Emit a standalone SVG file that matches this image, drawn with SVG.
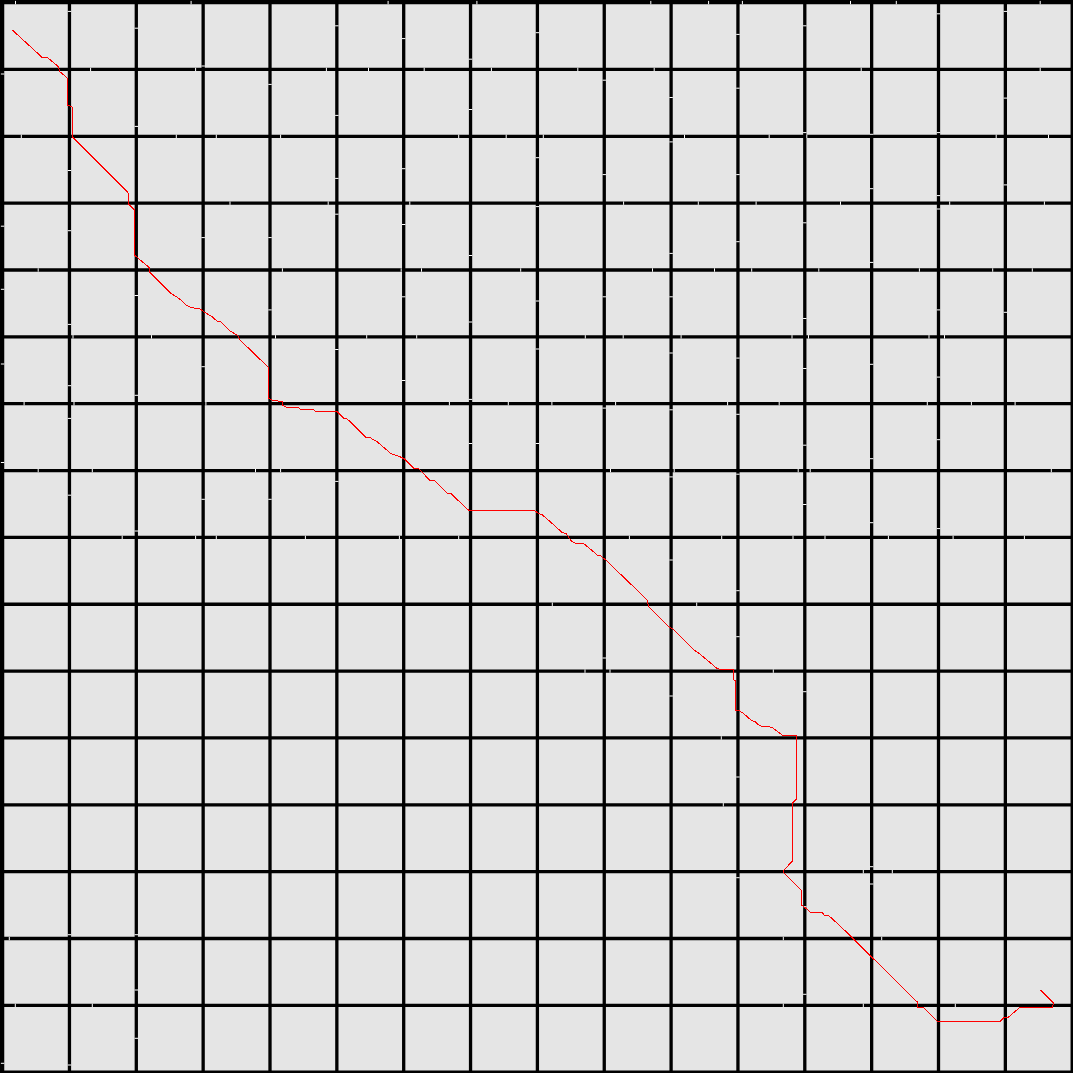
<svg xmlns="http://www.w3.org/2000/svg" width="1073" height="1073" viewBox="0 0 1073 1073">
<style>
.bg{fill:#e5e5e5}
.grid{stroke:#000;stroke-width:3.3;fill:none}
.frame{fill:none;stroke:#000;stroke-width:4}
.tick{stroke:#fff;stroke-width:1;fill:none}
.route{stroke:#ff0000;stroke-width:1;fill:none;shape-rendering:crispEdges}
</style>
<rect class="bg" x="0" y="0" width="1073" height="1073"/>
<g id="grid">
<path class="grid" d="M2.6,0V1073 M69.45,0V1073 M136.3,0V1073 M203.15,0V1073 M270,0V1073 M336.85,0V1073 M403.7,0V1073 M470.55,0V1073 M537.4,0V1073 M604.25,0V1073 M671.1,0V1073 M737.95,0V1073 M804.8,0V1073 M871.65,0V1073 M938.5,0V1073 M1005.35,0V1073 M1072.2,0V1073
M0,2.6H1073 M0,69.45H1073 M0,136.3H1073 M0,203.15H1073 M0,270H1073 M0,336.85H1073 M0,403.7H1073 M0,470.55H1073 M0,537.4H1073 M0,604.25H1073 M0,671.1H1073 M0,737.95H1073 M0,804.8H1073 M0,871.65H1073 M0,938.5H1073 M0,1005.35H1073 M0,1072.2H1073"/>
<rect class="frame" x="0" y="0" width="1073" height="1073"/>
</g>
<g id="ticks">
<path class="tick" d="
M15.5,0.9v3.4 M191.1,0.9v3.4 M388.1,0.9v3.4 M476.9,0.9v3.4 M650.8,0.9v3.4 M708.6,0.9v3.4 M742.4,0.9v3.4 M850.5,0.9v3.4 M896.3,0.9v3.4 M1040.2,0.9v3.4
M90.6,67.75v3.4 M195.6,67.75v3.4 M326.4,67.75v3.4 M368.5,67.75v3.4 M424.2,67.75v3.4 M491.4,67.75v3.4 M577.8,67.75v3.4 M654.2,67.75v3.4 M861.2,67.75v3.4 M1040.2,67.75v3.4
M21.3,134.6v3.4 M176.3,134.6v3.4 M216.3,134.6v3.4 M280.6,134.6v3.4 M458.7,134.6v3.4 M506.2,134.6v3.4 M543.3,134.6v3.4 M684.5,134.6v3.4 M769.2,134.6v3.4 M806.8,134.6v3.4 M996.2,134.6v3.4 M1048.5,134.6v3.4
M230,201.45v3.4 M328.2,201.45v3.4 M409.8,201.45v3.4 M623.6,201.45v3.4 M698.3,201.45v3.4 M756.1,201.45v3.4 M840.5,201.45v3.4 M949.7,201.45v3.4 M1044.4,201.45v3.4
M38.2,268.3v3.4 M282.4,268.3v3.4 M401.2,268.3v3.4 M421.5,268.3v3.4 M520.7,268.3v3.4 M652.5,268.3v3.4 M714.5,268.3v3.4 M751.7,268.3v3.4 M818.8,268.3v3.4 M919.4,268.3v3.4 M992.7,268.3v3.4 M1032.3,268.3v3.4
M73,335.15v3.4 M151.5,335.15v3.4 M275.5,335.15v3.4 M366.7,335.15v3.4 M416.7,335.15v3.4 M585.3,335.15v3.4 M623.2,335.15v3.4 M681.1,335.15v3.4 M792,335.15v3.4 M808.5,335.15v3.4 M929,335.15v3.4 M944.5,335.15v3.4
M24.1,402v3.4 M74,402v3.4 M205.9,402v3.4 M449.4,402v3.4 M508.3,402v3.4 M551.9,402v3.4 M615.6,402v3.4 M727.6,402v3.4 M779.2,402v3.4 M927.3,402v3.4 M971.4,402v3.4 M1015.1,402v3.4
M38.2,468.85v3.4 M92.3,468.85v3.4 M255.5,468.85v3.4 M280.6,468.85v3.4 M610.5,468.85v3.4 M674.2,468.85v3.4 M798.2,468.85v3.4 M810.2,468.85v3.4 M1051.3,468.85v3.4
M122.2,535.7v3.4 M195.6,535.7v3.4 M216.3,535.7v3.4 M305.4,535.7v3.4 M399.4,535.7v3.4 M458.7,535.7v3.4 M629.4,535.7v3.4 M721.7,535.7v3.4 M793,535.7v3.4 M825,535.7v3.4 M888.4,535.7v3.4 M953.1,535.7v3.4 M1024.4,535.7v3.4
M552.3,602.55v3.4 M696.7,602.55v3.4
M585,669.4v3.4 M610,669.4v3.4 M773.3,669.4v3.4
M721.3,736.25v3.4
M723.3,803.1v3.4
M863.3,869.95v3.4 M892.3,869.95v3.4
M9.3,936.8v3.4 M783.3,936.8v3.4 M881.7,936.8v3.4
M15.3,1003.65v3.4 M92.3,1003.65v3.4 M783.3,1003.65v3.4 M863.3,1003.65v3.4 M955.3,1003.65v3.4
M0.9,74h3.4 M0.9,226.2h3.4 M0.9,289.3h3.4 M0.9,364h3.4 M0.9,462.5h3.4 M0.9,1063.3h3.4
M67.75,11.4h3.4 M67.75,170.5h3.4 M67.75,230.7h3.4 M67.75,324.4h3.4 M67.75,385.7h3.4 M67.75,418.4h3.4 M67.75,495.2h3.4 M67.75,934.7h3.4 M67.75,1065h3.4
M134.6,28.2h3.4 M134.6,126.4h3.4 M134.6,295.5h3.4 M134.6,395.3h3.4 M134.6,531h3.4 M134.6,934.7h3.4 M134.6,990h3.4 M134.6,1038.3h3.4
M201.45,66h3.4 M201.45,237.6h3.4 M201.45,366.7h3.4 M201.45,499.3h3.4
M268.3,84.4h3.4 M268.3,237.6h3.4 M268.3,309.9h3.4 M268.3,499.3h3.4
M335.15,25.8h3.4 M335.15,115.4h3.4 M335.15,178.4h3.4 M335.15,214.2h3.4 M335.15,349.5h3.4 M335.15,481.4h3.4
M402,38.6h3.4 M402,168.7h3.4 M402,224.5h3.4 M402,296.8h3.4 M402,380.5h3.4
M468.85,59.2h3.4 M468.85,109.5h3.4 M468.85,255.5h3.4 M468.85,322h3.4 M468.85,399.4h3.4 M468.85,443.5h3.4
M535.7,32.7h3.4 M535.7,157.7h3.4 M535.7,206.6h3.4 M535.7,301h3.4 M535.7,349h3.4 M535.7,443.5h3.4
M602.55,80.2h3.4 M602.55,174.6h3.4 M602.55,296.8h3.4 M602.55,408.1h3.4 M602.55,658h3.4
M669.4,97.5h3.4 M669.4,141.9h3.4 M669.4,253.4h3.4 M669.4,296.8h3.4 M669.4,353h3.4 M669.4,409.8h3.4 M669.4,476.9h3.4 M669.4,560h3.4 M669.4,696h3.4
M736.25,34.4h3.4 M736.25,88.2h3.4 M736.25,174.6h3.4 M736.25,241.7h3.4 M736.25,358.1h3.4 M736.25,414.3h3.4 M736.25,474.2h3.4 M736.25,590.7h3.4 M736.25,636.7h3.4 M736.25,777h3.4 M736.25,877.7h3.4
M803.1,25.8h3.4 M803.1,132.6h3.4 M803.1,222.8h3.4 M803.1,318.5h3.4 M803.1,368.5h3.4 M803.1,445.2h3.4 M803.1,504.5h3.4 M803.1,691.7h3.4 M803.1,906.7h3.4 M803.1,994.3h3.4
M869.95,134.3h3.4 M869.95,188.7h3.4 M869.95,262.4h3.4 M869.95,364.3h3.4 M869.95,458.7h3.4 M869.95,522.7h3.4 M869.95,866.7h3.4 M869.95,884h3.4
M936.8,13.8h3.4 M936.8,132.6h3.4 M936.8,195.6h3.4 M936.8,209h3.4 M936.8,309.9h3.4 M936.8,377.1h3.4 M936.8,439.7h3.4 M936.8,528.6h3.4
M1003.65,11.4h3.4 M1003.65,98.1h3.4 M1003.65,184.9h3.4 M1003.65,312.3h3.4
"/>
</g>
<g id="connectors">
<polyline id="path" class="route" points="12.3,30 41.7,57 47,57 58.7,67 59.3,71.3 67.3,78 67.3,105 72.3,107 72.3,137 128,192.7 128.7,204.3 134.3,210 134.3,255 149,267.3 149.7,272.3 171.7,294 176.7,297 180,299.3 186,305 191,307.5 200,309 204,312 212,316.7 217.3,321.3 220.7,322 230,331 234,333.3 237.3,335 240,340 268.3,367.3 268.3,398.3 273.3,400.7 282.3,401.3 282.3,405 286,407 297.7,407 300,409 313.3,409 315,411 337.3,412 344,418.3 346.7,418.7 350.7,422 366,437.3 370,437.3 372.3,439.3 376.7,441.3 391,453.7 395.3,455 400,456.7 404,458.7 413.3,468 419,468.7 429.3,480 434,480.3 446.7,493 451,493.7 468.3,510 534,510 537.3,512.7 542,514.7 548.3,520 562.3,532.7 566,533.3 568.3,536.7 571.3,541 576.7,543.7 584.3,544 597.3,555 600.7,556 605,559.3 647.3,600 648.3,606 669.3,627.3 673.3,629.3 694.3,650.3 698.3,652.7 710,662.5 716.7,668.3 719.3,669 733,669 733.3,679.3 735,680.7 735,710 739.3,710.7 743.3,713.3 751.7,720.7 755,721.7 757.3,724 761.7,726.3 768.3,726.7 771.7,727.3 778.3,732 782.7,735.3 796,735.3 796,799.3 792.7,802.7 792.3,861 783.3,871 784,873.3 801.7,890.7 802,905.3 807.3,909.3 810.7,912.7 822.3,912.7 824,915 828.3,915.3 834.7,921 846.7,932.3 851.7,937.3 917.3,1002 917.7,1007.3 923.3,1007.3 937.3,1021 1000.7,1021 1004,1017.3 1008.3,1017.3 1020,1007.3 1052.7,1007.3 1053.3,1002.7 1040.3,990"/>
</g>
</svg>
